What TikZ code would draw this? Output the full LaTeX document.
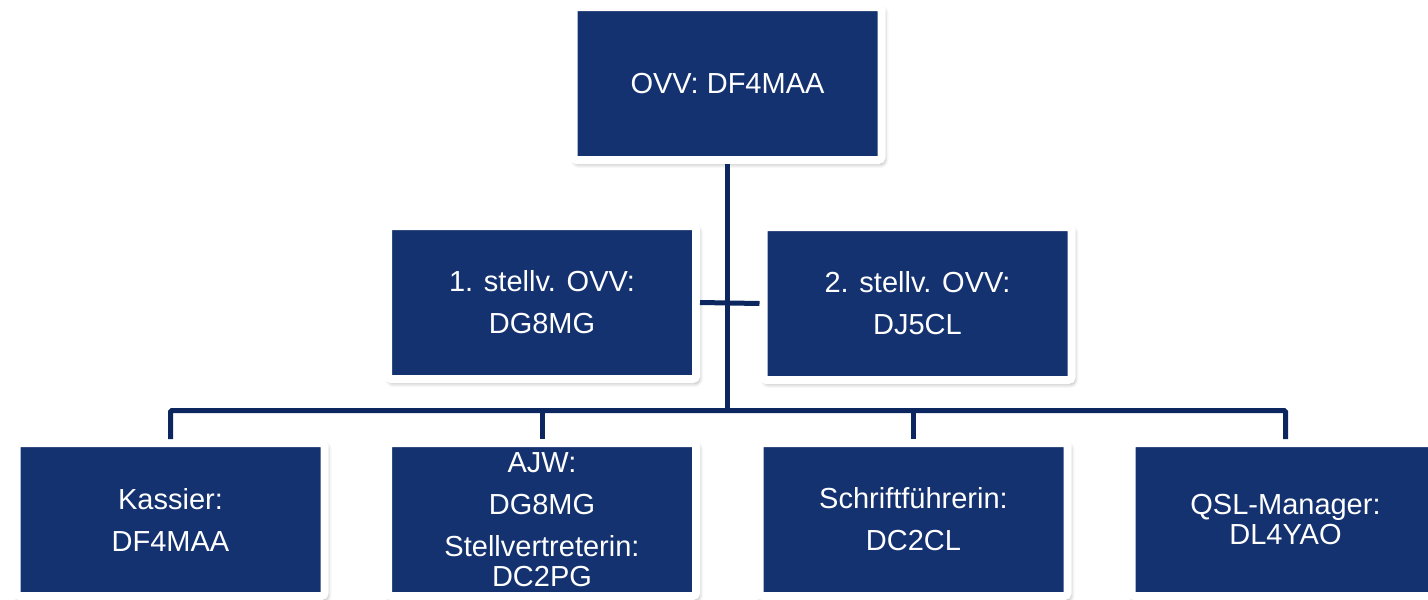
\documentclass[tikz,border=0pt]{standalone}
\usepackage{fontspec}
\setmainfont{Liberation Sans}
\usetikzlibrary{shadows.blur}
\definecolor{navy}{RGB}{21,50,112}
\definecolor{linec}{RGB}{12,38,96}
\tikzset{
  orgbox/.style={draw=white, line width=8pt, fill=navy, rounded corners=3pt,
    minimum width=308pt, minimum height=153pt, inner sep=0pt,
    text=white, align=center, font=\fontsize{29}{42}\selectfont,
    blur shadow={shadow xshift=2pt, shadow yshift=-3pt, shadow blur radius=5pt, shadow opacity=50}},
  conn/.style={draw=linec, line width=5pt, rounded corners=1.5pt}
}
\begin{document}
\begin{tikzpicture}[x=1pt,y=-1pt]
\useasboundingbox (0,0) rectangle (1428,600);
\clip (0,0) rectangle (1428,600);
\node[orgbox] (top) at (727.5,83.5) {OVV: DF4MAA};
\node[orgbox] (m1) at (542,302.5) {1. stellv. OVV:\\DG8MG};
\node[orgbox] (m2) at (917.5,303.5) {2. stellv. OVV:\\DJ5CL};
\node[orgbox] (b1) at (170.5,519.5) {Kassier:\\DF4MAA};
\node[orgbox] (b2) at (542,519.5) {AJW:\\DG8MG\\Stellvertreterin:\\[-12pt]DC2PG};
\node[orgbox] (b3) at (913.5,519.5) {Schriftführerin:\\DC2CL};
\node[orgbox] (b4) at (1285.5,519.5) {QSL-Manager:\\[-12pt]DL4YAO};
\coordinate (bus) at (727.5,410.5);
\draw[conn] (b1.north) |- (bus) -| (b4.north);
\draw[conn] (top.south) -- (bus);
\draw[conn] (b2.north) -- (b2.north |- bus);
\draw[conn] (b3.north) -- (b3.north |- bus);
\draw[conn] (m1.east) -- (m2.west);
\end{tikzpicture}
\end{document}
